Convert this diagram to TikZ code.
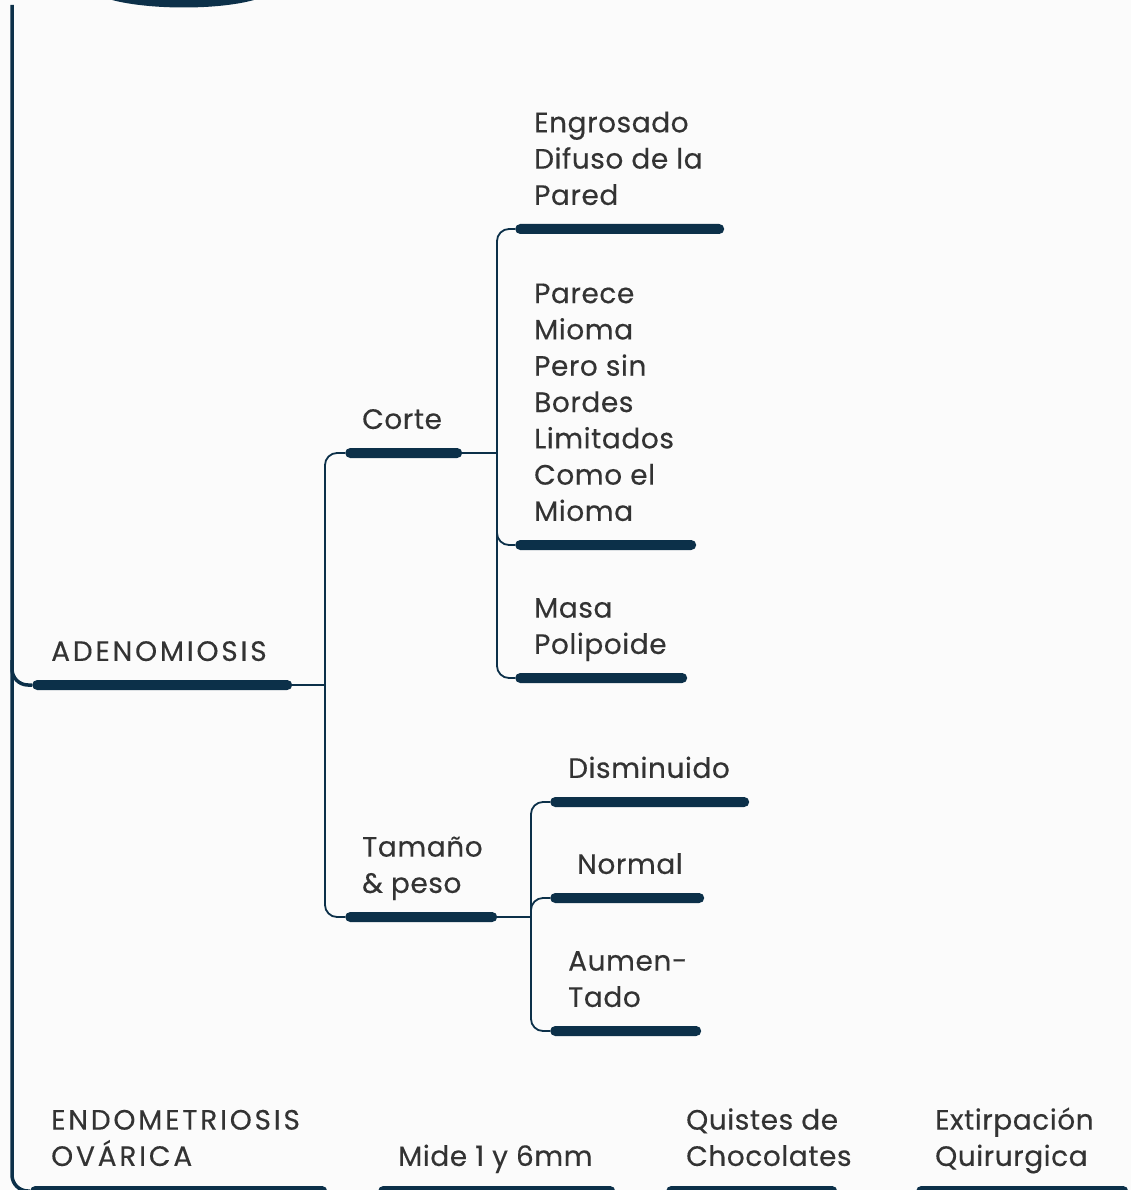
\documentclass[tikz,border=0pt]{standalone}
\usepackage{fontspec}
\setmainfont{Poppins}[LetterSpace=2,FakeBold=0.3]
\newfontfamily\capsfont{Poppins}[LetterSpace=10,FakeBold=0.3]
\usetikzlibrary{positioning}
\definecolor{navy}{HTML}{0C3049}
\definecolor{ink}{HTML}{333333}
\definecolor{paper}{HTML}{FBFBFB}

\begin{document}
\begin{tikzpicture}[x=1pt,y=-1pt,
    bar/.style={rectangle,fill=navy,rounded corners=5pt,minimum height=10pt,inner sep=0pt,anchor=west},
    lbl/.style={text=ink,inner sep=0pt,align=left,font=\fontsize{28}{36.3}\selectfont,execute at end node=\strut},
    link/.style={draw=navy,line width=1.8pt,rounded corners=12pt},
    spine/.style={draw=navy,line width=3.5pt,rounded corners=16pt}]
				\fill[paper] (0,0) rectangle (1131,1190);
				\useasboundingbox (0,0) rectangle (1131,1190);
				\fill[navy] (112,0) .. controls (150,10) and (218,10) .. (254,0) -- cycle;

				\draw (32,685) node[bar,minimum width=260pt] (adenoBar) {};
				\draw (345,453) node[bar,minimum width=117pt] (corteBar) {};
				\draw (345,917) node[bar,minimum width=152pt] (tamanoBar) {};
				\draw (515,229) node[bar,minimum width=209pt] (engroBar) {};
				\draw (515,545) node[bar,minimum width=181pt] (pareceBar) {};
				\draw (515,678) node[bar,minimum width=172pt] (masaBar) {};
				\draw (550,802) node[bar,minimum width=199pt] (dismBar) {};
				\draw (550,898) node[bar,minimum width=154pt] (normalBar) {};
				\draw (550,1031) node[bar,minimum width=151pt] (aumenBar) {};
				\draw (30,1191) node[bar,minimum width=297pt] (endoBar) {};
				\draw (378,1191) node[bar,minimum width=237pt] (mideBar) {};
				\draw (666,1191) node[bar,minimum width=171pt] (quistesBar) {};
				\draw (916,1191) node[bar,minimum width=212pt] (extirpBar) {};

				\node[lbl,above right=13pt and 19pt of adenoBar.west] (adeno) {\capsfont ADENOMIOSIS};
				\node[lbl,above right=13pt and 17pt of corteBar.west] (corte) {Corte};
				\node[lbl,above right=13pt and 17pt of tamanoBar.west] (tamano) {Tamaño\\\& peso};
				\node[lbl,above right=13pt and 19pt of engroBar.west] (engro) {Engrosado\\Difuso de la\\Pared};
				\node[lbl,above right=13pt and 19pt of pareceBar.west] (parece) {Parece\\Mioma\\Pero sin\\Bordes\\Limitados\\Como el\\Mioma};
				\node[lbl,above right=13pt and 19pt of masaBar.west] (masa) {Masa\\Polipoide};
				\node[lbl,above right=13pt and 18pt of dismBar.west] (dism) {Disminuido};
				\node[lbl,above right=13pt and 27pt of normalBar.west] (normal) {Normal};
				\node[lbl,above right=13pt and 18pt of aumenBar.west] (aumen) {Aumen-\\Tado};
				\node[lbl,above right=14pt and 21pt of endoBar.west] (endo) {\capsfont ENDOMETRIOSIS\\\capsfont OVÁRICA};
				\node[lbl,above right=14pt and 20pt of mideBar.west] (mide) {Mide 1 y 6mm};
				\node[lbl,above right=14pt and 20pt of quistesBar.west] (quistes) {Quistes de\\Chocolates};
				\node[lbl,above right=14pt and 19pt of extirpBar.west] (extirp) {Extirpación\\Quirurgica};

				\coordinate (spineTop) at (12,5);
				\coordinate (spineMid) at (12,660);
				\coordinate (adenoJ) at (325,685);
				\coordinate (corteJ) at (497,453);
				\coordinate (tamanoJ) at (531,917);

				\draw[spine] (spineTop) |- (endoBar.west);
				\draw[spine] (spineMid) |- (adenoBar.west);

				\draw[link] (adenoBar.east) -- (adenoJ);
				\draw[link] (adenoJ) |- (corteBar.west);
				\draw[link] (adenoJ) |- (tamanoBar.west);
				\draw[link] (corteBar.east) -- (corteJ);
				\draw[link] (corteJ) |- (engroBar.west);
				\draw[link] (corteJ) |- (pareceBar.west);
				\draw[link] (corteJ) |- (masaBar.west);
				\draw[link] (tamanoBar.east) -- (tamanoJ);
				\draw[link] (tamanoJ) |- (dismBar.west);
				\draw[link] (tamanoJ) |- (normalBar.west);
				\draw[link] (tamanoJ) |- (aumenBar.west);
			\end{tikzpicture}
\end{document}
